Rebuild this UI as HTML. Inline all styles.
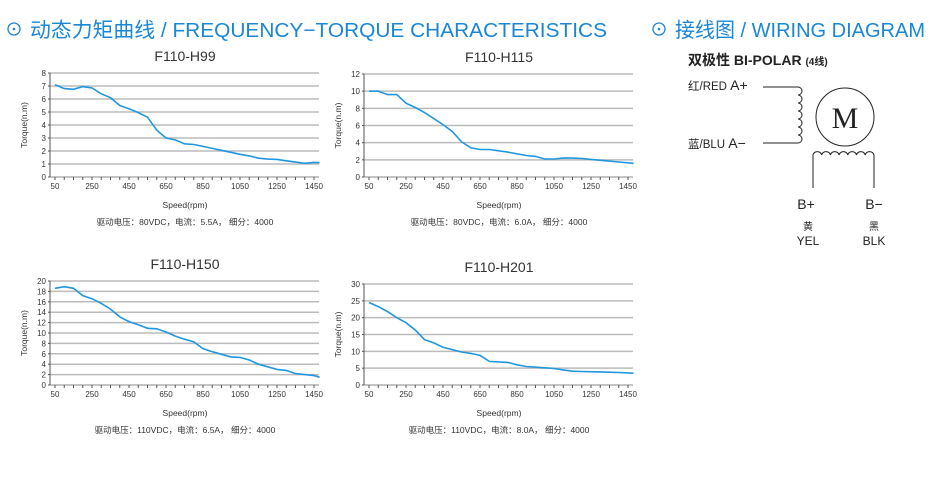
<!DOCTYPE html>
<html><head><meta charset="utf-8"><style>
body{margin:0;width:945px;height:479px;background:#fff;overflow:hidden;font-family:"Liberation Sans","Noto Sans CJK SC",sans-serif}
</style></head><body>
<svg id="s" width="945" height="479" xmlns="http://www.w3.org/2000/svg" font-family="Liberation Sans, Noto Sans CJK SC, sans-serif">
<g fill="#1a86d6" font-size="20.5">
<circle cx="14" cy="29" r="6" fill="none" stroke="#1a86d6" stroke-width="1.3"/><circle cx="14" cy="29" r="1.3"/>
<text x="30" y="37" textLength="577" lengthAdjust="spacingAndGlyphs">动态力矩曲线 / FREQUENCY−TORQUE CHARACTERISTICS</text>
<circle cx="659" cy="29" r="6" fill="none" stroke="#1a86d6" stroke-width="1.3"/><circle cx="659" cy="29" r="1.3"/>
<text x="675" y="37" textLength="250" lengthAdjust="spacingAndGlyphs">接线图 / WIRING DIAGRAM</text>
</g>
<g fill="#222">
<text x="688" y="65" font-size="14" font-weight="bold">双极性 BI-POLAR <tspan font-size="10">(4线)</tspan></text>
<text x="688" y="90" font-size="11.5">红/RED <tspan font-size="14">A+</tspan></text>
<text x="688" y="148" font-size="11.5">蓝/BLU <tspan font-size="14">A−</tspan></text>
<text x="806" y="209" font-size="14" text-anchor="middle">B+</text>
<text x="874" y="209" font-size="14" text-anchor="middle">B−</text>
<text x="808" y="230" font-size="10" text-anchor="middle">黄</text>
<text x="808" y="245" font-size="12" text-anchor="middle">YEL</text>
<text x="874" y="230" font-size="10" text-anchor="middle">黑</text>
<text x="874" y="245" font-size="12" text-anchor="middle">BLK</text>
<text x="845" y="128" font-size="30" font-family="Liberation Serif, serif" text-anchor="middle">M</text>
</g>
<g fill="none" stroke="#222" stroke-width="1">
<circle cx="845" cy="117" r="29"/>
<path d="M763 87H798M763 143H798"/>
<path id="coilA" d=""/><path id="coilB" d=""/>
<path d="M813 155V188M874 155V188"/>
</g>
<g id="charts"></g>
</svg>
<script>
var s='M798 87';for(var i=0;i<7;i++){s+=' a4 4 0 0 1 0 8';}
document.getElementById('coilA').setAttribute('d',s);
var b='M813 155';for(var i=0;i<7;i++){b+=' a4.4 4 0 0 1 8.7 0';}
document.getElementById('coilB').setAttribute('d',b);
var charts=[
{t:'F110-H99',ox:50,r:319,top:73,bot:177,max:8,step:1,cap:'驱动电压：80VDC，电流：5.5A，  细分：4000',
d:[[50,7.1],[100,6.8],[150,6.75],[200,6.95],[250,6.85],[300,6.4],[350,6.1],[400,5.5],[450,5.25],[500,4.95],[550,4.6],[600,3.6],[650,3.0],[700,2.85],[750,2.55],[800,2.5],[850,2.35],[900,2.2],[950,2.05],[1000,1.9],[1050,1.75],[1100,1.62],[1150,1.45],[1200,1.38],[1250,1.35],[1300,1.25],[1350,1.15],[1400,1.05],[1450,1.12],[1480,1.1]]},
{t:'F110-H115',ox:364,r:633,top:74,bot:177,max:12,step:2,cap:'驱动电压：80VDC，电流：6.0A，  细分：4000',
d:[[50,10],[100,10],[150,9.6],[200,9.6],[250,8.6],[300,8.1],[350,7.5],[400,6.8],[450,6.1],[500,5.3],[550,4.1],[600,3.4],[650,3.2],[700,3.2],[800,2.9],[900,2.5],[950,2.4],[1000,2.1],[1050,2.1],[1100,2.2],[1150,2.2],[1200,2.15],[1300,1.95],[1400,1.75],[1480,1.6]]},
{t:'F110-H150',ox:50,r:319,top:281,bot:385,max:20,step:2,cap:'驱动电压：110VDC，电流：6.5A，  细分：4000',
d:[[50,18.6],[100,18.9],[150,18.6],[200,17.2],[250,16.6],[300,15.7],[350,14.6],[400,13.1],[450,12.2],[500,11.6],[550,10.9],[600,10.8],[650,10.2],[700,9.4],[750,8.8],[800,8.3],[850,7.0],[900,6.4],[950,5.9],[1000,5.4],[1050,5.3],[1100,4.8],[1150,4.0],[1200,3.5],[1250,3.0],[1300,2.8],[1350,2.2],[1400,2.0],[1450,1.8],[1480,1.5]]},
{t:'F110-H201',ox:364,r:633,top:284,bot:385,max:30,step:5,cap:'驱动电压：110VDC，电流：8.0A，  细分：4000',
d:[[50,24.5],[100,23.3],[150,21.8],[200,20],[250,18.5],[300,16.3],[350,13.5],[400,12.5],[450,11.2],[500,10.5],[550,9.8],[600,9.4],[650,8.8],[700,7.0],[800,6.7],[850,6.0],[900,5.5],[1000,5.1],[1050,4.9],[1100,4.5],[1150,4.1],[1200,4.0],[1300,3.9],[1400,3.7],[1480,3.5]]}
];
var h='';
charts.forEach(function(c){
 var x0=c.ox+5,x1=c.ox+264;
 function X(v){return x0+(v-50)*(x1-x0)/1400;}
 function Y(v){return c.bot-(v/c.max)*(c.bot-c.top);}
 h+='<text x="'+(c.ox+135)+'" y="'+(c.top-12)+'" font-size="14" fill="#333" text-anchor="middle">'+c.t+'</text>';
 for(var v=0;v<=c.max;v+=c.step){var y=Y(v);
  h+='<line x1="'+c.ox+'" y1="'+y+'" x2="'+c.r+'" y2="'+y+'" stroke="'+(v==0?'#888':'#bbb')+'" stroke-width="'+(v==0?1:1.5)+'"/>';
  h+='<line x1="'+(c.ox-2)+'" y1="'+y+'" x2="'+c.ox+'" y2="'+y+'" stroke="#555"/>';
  h+='<text x="'+(c.ox-4)+'" y="'+(y+3)+'" font-size="8" fill="#333" text-anchor="end">'+v+'</text>';}
 h+='<line x1="'+c.ox+'" y1="'+c.top+'" x2="'+c.ox+'" y2="'+c.bot+'" stroke="#555"/>';
 for(var sp=50;sp<=1500;sp+=50){var x=X(sp);if(x>c.r)break;h+='<line x1="'+x+'" y1="'+c.bot+'" x2="'+x+'" y2="'+(c.bot+3)+'" stroke="#555"/>';}
 for(var sp=50;sp<=1450;sp+=200){h+='<text x="'+X(sp)+'" y="'+(c.bot+12)+'" font-size="8" fill="#333" text-anchor="middle">'+sp+'</text>';}
 h+='<text transform="translate('+(c.ox-23)+','+((c.top+c.bot)/2)+') rotate(-90)" font-size="8.5" fill="#333" text-anchor="middle">Torque(n.m)</text>';
 h+='<text x="'+(c.ox+135)+'" y="'+(c.bot+31)+'" font-size="8.5" fill="#333" text-anchor="middle">Speed(rpm)</text>';
 h+='<text x="'+(c.ox+135)+'" y="'+(c.bot+48)+'" font-size="8.5" fill="#333" text-anchor="middle">'+c.cap+'</text>';
 h+='<polyline fill="none" stroke="#1f96e0" stroke-width="1.6" points="'+c.d.map(function(p){return X(p[0]).toFixed(1)+','+Y(p[1]).toFixed(1)}).join(' ')+'"/>';
});
document.getElementById('charts').innerHTML=h;
</script>
</body></html>
